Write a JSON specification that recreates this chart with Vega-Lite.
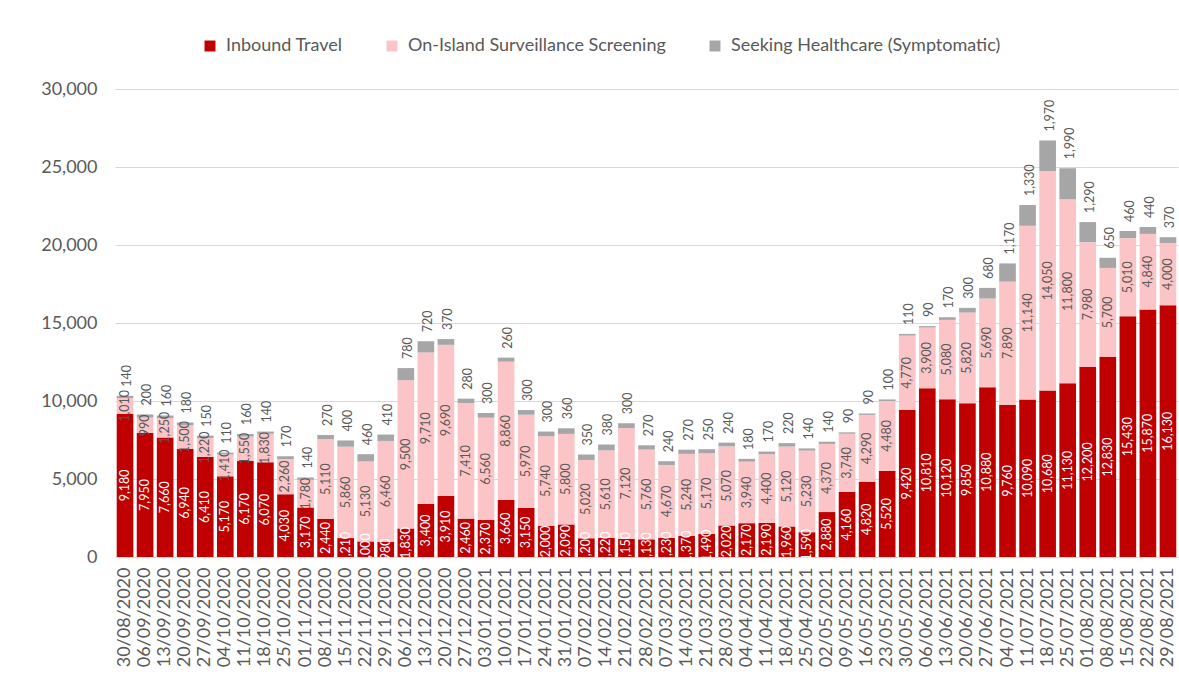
{
  "$schema": "https://vega.github.io/schema/vega-lite/v6.json",
  "width": 1063,
  "height": 468,
  "autosize": {"type": "none"},
  "padding": {"left": 115, "top": 89, "right": 1, "bottom": 123},
  "background": "white",
  "config": {
    "font": "Lato",
    "view": {"stroke": null}
  },
  "data": {
    "values": [
      {"week": "30/08/2020", "type": "Inbound Travel", "tests": 9180}, {"week": "30/08/2020", "type": "On-Island Surveillance Screening", "tests": 1010}, {"week": "30/08/2020", "type": "Seeking Healthcare (Symptomatic)", "tests": 140},
      {"week": "06/09/2020", "type": "Inbound Travel", "tests": 7950}, {"week": "06/09/2020", "type": "On-Island Surveillance Screening", "tests": 990}, {"week": "06/09/2020", "type": "Seeking Healthcare (Symptomatic)", "tests": 200},
      {"week": "13/09/2020", "type": "Inbound Travel", "tests": 7660}, {"week": "13/09/2020", "type": "On-Island Surveillance Screening", "tests": 1250}, {"week": "13/09/2020", "type": "Seeking Healthcare (Symptomatic)", "tests": 160},
      {"week": "20/09/2020", "type": "Inbound Travel", "tests": 6940}, {"week": "20/09/2020", "type": "On-Island Surveillance Screening", "tests": 1500}, {"week": "20/09/2020", "type": "Seeking Healthcare (Symptomatic)", "tests": 180},
      {"week": "27/09/2020", "type": "Inbound Travel", "tests": 6410}, {"week": "27/09/2020", "type": "On-Island Surveillance Screening", "tests": 1220}, {"week": "27/09/2020", "type": "Seeking Healthcare (Symptomatic)", "tests": 150},
      {"week": "04/10/2020", "type": "Inbound Travel", "tests": 5170}, {"week": "04/10/2020", "type": "On-Island Surveillance Screening", "tests": 1410}, {"week": "04/10/2020", "type": "Seeking Healthcare (Symptomatic)", "tests": 110},
      {"week": "11/10/2020", "type": "Inbound Travel", "tests": 6170}, {"week": "11/10/2020", "type": "On-Island Surveillance Screening", "tests": 1550}, {"week": "11/10/2020", "type": "Seeking Healthcare (Symptomatic)", "tests": 160},
      {"week": "18/10/2020", "type": "Inbound Travel", "tests": 6070}, {"week": "18/10/2020", "type": "On-Island Surveillance Screening", "tests": 1830}, {"week": "18/10/2020", "type": "Seeking Healthcare (Symptomatic)", "tests": 140},
      {"week": "25/10/2020", "type": "Inbound Travel", "tests": 4030}, {"week": "25/10/2020", "type": "On-Island Surveillance Screening", "tests": 2260}, {"week": "25/10/2020", "type": "Seeking Healthcare (Symptomatic)", "tests": 170},
      {"week": "01/11/2020", "type": "Inbound Travel", "tests": 3170}, {"week": "01/11/2020", "type": "On-Island Surveillance Screening", "tests": 1780}, {"week": "01/11/2020", "type": "Seeking Healthcare (Symptomatic)", "tests": 140},
      {"week": "08/11/2020", "type": "Inbound Travel", "tests": 2440}, {"week": "08/11/2020", "type": "On-Island Surveillance Screening", "tests": 5110}, {"week": "08/11/2020", "type": "Seeking Healthcare (Symptomatic)", "tests": 270},
      {"week": "15/11/2020", "type": "Inbound Travel", "tests": 1210}, {"week": "15/11/2020", "type": "On-Island Surveillance Screening", "tests": 5860}, {"week": "15/11/2020", "type": "Seeking Healthcare (Symptomatic)", "tests": 400},
      {"week": "22/11/2020", "type": "Inbound Travel", "tests": 1000}, {"week": "22/11/2020", "type": "On-Island Surveillance Screening", "tests": 5130}, {"week": "22/11/2020", "type": "Seeking Healthcare (Symptomatic)", "tests": 460},
      {"week": "29/11/2020", "type": "Inbound Travel", "tests": 980}, {"week": "29/11/2020", "type": "On-Island Surveillance Screening", "tests": 6460}, {"week": "29/11/2020", "type": "Seeking Healthcare (Symptomatic)", "tests": 410},
      {"week": "06/12/2020", "type": "Inbound Travel", "tests": 1830}, {"week": "06/12/2020", "type": "On-Island Surveillance Screening", "tests": 9500}, {"week": "06/12/2020", "type": "Seeking Healthcare (Symptomatic)", "tests": 780},
      {"week": "13/12/2020", "type": "Inbound Travel", "tests": 3400}, {"week": "13/12/2020", "type": "On-Island Surveillance Screening", "tests": 9710}, {"week": "13/12/2020", "type": "Seeking Healthcare (Symptomatic)", "tests": 720},
      {"week": "20/12/2020", "type": "Inbound Travel", "tests": 3910}, {"week": "20/12/2020", "type": "On-Island Surveillance Screening", "tests": 9690}, {"week": "20/12/2020", "type": "Seeking Healthcare (Symptomatic)", "tests": 370},
      {"week": "27/12/2020", "type": "Inbound Travel", "tests": 2460}, {"week": "27/12/2020", "type": "On-Island Surveillance Screening", "tests": 7410}, {"week": "27/12/2020", "type": "Seeking Healthcare (Symptomatic)", "tests": 280},
      {"week": "03/01/2021", "type": "Inbound Travel", "tests": 2370}, {"week": "03/01/2021", "type": "On-Island Surveillance Screening", "tests": 6560}, {"week": "03/01/2021", "type": "Seeking Healthcare (Symptomatic)", "tests": 300},
      {"week": "10/01/2021", "type": "Inbound Travel", "tests": 3660}, {"week": "10/01/2021", "type": "On-Island Surveillance Screening", "tests": 8860}, {"week": "10/01/2021", "type": "Seeking Healthcare (Symptomatic)", "tests": 260},
      {"week": "17/01/2021", "type": "Inbound Travel", "tests": 3150}, {"week": "17/01/2021", "type": "On-Island Surveillance Screening", "tests": 5970}, {"week": "17/01/2021", "type": "Seeking Healthcare (Symptomatic)", "tests": 300},
      {"week": "24/01/2021", "type": "Inbound Travel", "tests": 2000}, {"week": "24/01/2021", "type": "On-Island Surveillance Screening", "tests": 5740}, {"week": "24/01/2021", "type": "Seeking Healthcare (Symptomatic)", "tests": 300},
      {"week": "31/01/2021", "type": "Inbound Travel", "tests": 2090}, {"week": "31/01/2021", "type": "On-Island Surveillance Screening", "tests": 5800}, {"week": "31/01/2021", "type": "Seeking Healthcare (Symptomatic)", "tests": 360},
      {"week": "07/02/2021", "type": "Inbound Travel", "tests": 1200}, {"week": "07/02/2021", "type": "On-Island Surveillance Screening", "tests": 5020}, {"week": "07/02/2021", "type": "Seeking Healthcare (Symptomatic)", "tests": 350},
      {"week": "14/02/2021", "type": "Inbound Travel", "tests": 1220}, {"week": "14/02/2021", "type": "On-Island Surveillance Screening", "tests": 5610}, {"week": "14/02/2021", "type": "Seeking Healthcare (Symptomatic)", "tests": 380},
      {"week": "21/02/2021", "type": "Inbound Travel", "tests": 1150}, {"week": "21/02/2021", "type": "On-Island Surveillance Screening", "tests": 7120}, {"week": "21/02/2021", "type": "Seeking Healthcare (Symptomatic)", "tests": 300},
      {"week": "28/02/2021", "type": "Inbound Travel", "tests": 1130}, {"week": "28/02/2021", "type": "On-Island Surveillance Screening", "tests": 5760}, {"week": "28/02/2021", "type": "Seeking Healthcare (Symptomatic)", "tests": 270},
      {"week": "07/03/2021", "type": "Inbound Travel", "tests": 1230}, {"week": "07/03/2021", "type": "On-Island Surveillance Screening", "tests": 4670}, {"week": "07/03/2021", "type": "Seeking Healthcare (Symptomatic)", "tests": 240},
      {"week": "14/03/2021", "type": "Inbound Travel", "tests": 1370}, {"week": "14/03/2021", "type": "On-Island Surveillance Screening", "tests": 5240}, {"week": "14/03/2021", "type": "Seeking Healthcare (Symptomatic)", "tests": 270},
      {"week": "21/03/2021", "type": "Inbound Travel", "tests": 1490}, {"week": "21/03/2021", "type": "On-Island Surveillance Screening", "tests": 5170}, {"week": "21/03/2021", "type": "Seeking Healthcare (Symptomatic)", "tests": 250},
      {"week": "28/03/2021", "type": "Inbound Travel", "tests": 2020}, {"week": "28/03/2021", "type": "On-Island Surveillance Screening", "tests": 5070}, {"week": "28/03/2021", "type": "Seeking Healthcare (Symptomatic)", "tests": 240},
      {"week": "04/04/2021", "type": "Inbound Travel", "tests": 2170}, {"week": "04/04/2021", "type": "On-Island Surveillance Screening", "tests": 3940}, {"week": "04/04/2021", "type": "Seeking Healthcare (Symptomatic)", "tests": 180},
      {"week": "11/04/2021", "type": "Inbound Travel", "tests": 2190}, {"week": "11/04/2021", "type": "On-Island Surveillance Screening", "tests": 4400}, {"week": "11/04/2021", "type": "Seeking Healthcare (Symptomatic)", "tests": 170},
      {"week": "18/04/2021", "type": "Inbound Travel", "tests": 1960}, {"week": "18/04/2021", "type": "On-Island Surveillance Screening", "tests": 5120}, {"week": "18/04/2021", "type": "Seeking Healthcare (Symptomatic)", "tests": 220},
      {"week": "25/04/2021", "type": "Inbound Travel", "tests": 1590}, {"week": "25/04/2021", "type": "On-Island Surveillance Screening", "tests": 5230}, {"week": "25/04/2021", "type": "Seeking Healthcare (Symptomatic)", "tests": 140},
      {"week": "02/05/2021", "type": "Inbound Travel", "tests": 2880}, {"week": "02/05/2021", "type": "On-Island Surveillance Screening", "tests": 4370}, {"week": "02/05/2021", "type": "Seeking Healthcare (Symptomatic)", "tests": 140},
      {"week": "09/05/2021", "type": "Inbound Travel", "tests": 4160}, {"week": "09/05/2021", "type": "On-Island Surveillance Screening", "tests": 3740}, {"week": "09/05/2021", "type": "Seeking Healthcare (Symptomatic)", "tests": 90},
      {"week": "16/05/2021", "type": "Inbound Travel", "tests": 4820}, {"week": "16/05/2021", "type": "On-Island Surveillance Screening", "tests": 4290}, {"week": "16/05/2021", "type": "Seeking Healthcare (Symptomatic)", "tests": 90},
      {"week": "23/05/2021", "type": "Inbound Travel", "tests": 5520}, {"week": "23/05/2021", "type": "On-Island Surveillance Screening", "tests": 4480}, {"week": "23/05/2021", "type": "Seeking Healthcare (Symptomatic)", "tests": 100},
      {"week": "30/05/2021", "type": "Inbound Travel", "tests": 9420}, {"week": "30/05/2021", "type": "On-Island Surveillance Screening", "tests": 4770}, {"week": "30/05/2021", "type": "Seeking Healthcare (Symptomatic)", "tests": 110},
      {"week": "06/06/2021", "type": "Inbound Travel", "tests": 10810}, {"week": "06/06/2021", "type": "On-Island Surveillance Screening", "tests": 3900}, {"week": "06/06/2021", "type": "Seeking Healthcare (Symptomatic)", "tests": 90},
      {"week": "13/06/2021", "type": "Inbound Travel", "tests": 10120}, {"week": "13/06/2021", "type": "On-Island Surveillance Screening", "tests": 5080}, {"week": "13/06/2021", "type": "Seeking Healthcare (Symptomatic)", "tests": 170},
      {"week": "20/06/2021", "type": "Inbound Travel", "tests": 9850}, {"week": "20/06/2021", "type": "On-Island Surveillance Screening", "tests": 5820}, {"week": "20/06/2021", "type": "Seeking Healthcare (Symptomatic)", "tests": 300},
      {"week": "27/06/2021", "type": "Inbound Travel", "tests": 10880}, {"week": "27/06/2021", "type": "On-Island Surveillance Screening", "tests": 5690}, {"week": "27/06/2021", "type": "Seeking Healthcare (Symptomatic)", "tests": 680},
      {"week": "04/07/2021", "type": "Inbound Travel", "tests": 9760}, {"week": "04/07/2021", "type": "On-Island Surveillance Screening", "tests": 7890}, {"week": "04/07/2021", "type": "Seeking Healthcare (Symptomatic)", "tests": 1170},
      {"week": "11/07/2021", "type": "Inbound Travel", "tests": 10090}, {"week": "11/07/2021", "type": "On-Island Surveillance Screening", "tests": 11140}, {"week": "11/07/2021", "type": "Seeking Healthcare (Symptomatic)", "tests": 1330},
      {"week": "18/07/2021", "type": "Inbound Travel", "tests": 10680}, {"week": "18/07/2021", "type": "On-Island Surveillance Screening", "tests": 14050}, {"week": "18/07/2021", "type": "Seeking Healthcare (Symptomatic)", "tests": 1970},
      {"week": "25/07/2021", "type": "Inbound Travel", "tests": 11130}, {"week": "25/07/2021", "type": "On-Island Surveillance Screening", "tests": 11800}, {"week": "25/07/2021", "type": "Seeking Healthcare (Symptomatic)", "tests": 1990},
      {"week": "01/08/2021", "type": "Inbound Travel", "tests": 12200}, {"week": "01/08/2021", "type": "On-Island Surveillance Screening", "tests": 7980}, {"week": "01/08/2021", "type": "Seeking Healthcare (Symptomatic)", "tests": 1290},
      {"week": "08/08/2021", "type": "Inbound Travel", "tests": 12830}, {"week": "08/08/2021", "type": "On-Island Surveillance Screening", "tests": 5700}, {"week": "08/08/2021", "type": "Seeking Healthcare (Symptomatic)", "tests": 650},
      {"week": "15/08/2021", "type": "Inbound Travel", "tests": 15430}, {"week": "15/08/2021", "type": "On-Island Surveillance Screening", "tests": 5010}, {"week": "15/08/2021", "type": "Seeking Healthcare (Symptomatic)", "tests": 460},
      {"week": "22/08/2021", "type": "Inbound Travel", "tests": 15870}, {"week": "22/08/2021", "type": "On-Island Surveillance Screening", "tests": 4840}, {"week": "22/08/2021", "type": "Seeking Healthcare (Symptomatic)", "tests": 440},
      {"week": "29/08/2021", "type": "Inbound Travel", "tests": 16130}, {"week": "29/08/2021", "type": "On-Island Surveillance Screening", "tests": 4000}, {"week": "29/08/2021", "type": "Seeking Healthcare (Symptomatic)", "tests": 370}
    ]
  },
  "encoding": {
    "x": {
      "field": "week",
      "type": "ordinal",
      "sort": null,
      "scale": {"paddingInner": 0.17, "paddingOuter": 0.085},
      "axis": {
        "title": null,
        "labelAngle": -90,
        "labelFontSize": 18,
        "labelColor": "#595959",
        "labelPadding": 10,
        "labelOverlap": false,
        "ticks": false,
        "domain": true,
        "domainColor": "#D9D9D9"
      }
    }
  },
  "layer": [
    {
      "mark": {"type": "bar"},
      "encoding": {
        "y": {
          "field": "tests",
          "type": "quantitative",
          "stack": "zero",
          "scale": {"domain": [0, 30000]},
          "axis": {
            "title": null,
            "values": [0, 5000, 10000, 15000, 20000, 25000, 30000],
            "format": ",.0f",
            "labelFontSize": 18,
            "labelColor": "#595959",
            "labelPadding": 18,
            "ticks": false,
            "domain": false,
            "grid": true,
            "gridColor": "#D9D9D9",
            "gridWidth": 1.2
          }
        },
        "color": {
          "field": "type",
          "type": "nominal",
          "scale": {
            "domain": ["Inbound Travel", "On-Island Surveillance Screening", "Seeking Healthcare (Symptomatic)"],
            "range": ["#C00000", "#FBC5C8", "#A6A6A6"]
          },
          "legend": {
            "title": null,
            "orient": "none",
            "legendX": 86,
            "legendY": -52,
            "direction": "horizontal",
            "symbolType": "square",
            "symbolSize": 120,
            "symbolStrokeWidth": 0,
            "labelFontSize": 18,
            "labelColor": "#595959",
            "labelOffset": 7,
            "labelLimit": 0,
            "columnPadding": 40
          }
        },
        "order": {"field": "type", "sort": "ascending"}
      }
    },
    {
      "transform": [
        {"stack": "tests", "groupby": ["week"], "sort": [{"field": "type", "order": "ascending"}], "as": ["y0", "y1"]},
        {"filter": {"field": "type", "equal": "Inbound Travel"}},
        {"fold": ["y0", "y1"], "as": ["edge", "pos"]},
        {"aggregate": [{"op": "mean", "field": "pos", "as": "mid"}], "groupby": ["week", "tests"]}
      ],
      "mark": {"type": "text", "angle": 270, "align": "center", "baseline": "middle", "fontSize": 12.5, "color": "#FFFFFF"},
      "encoding": {
        "y": {
          "field": "mid",
          "type": "quantitative",
          "scale": {"domain": [0, 30000]},
          "axis": {
            "title": null,
            "values": [0, 5000, 10000, 15000, 20000, 25000, 30000],
            "format": ",.0f",
            "labelFontSize": 18,
            "labelColor": "#595959",
            "labelPadding": 18,
            "ticks": false,
            "domain": false,
            "grid": true,
            "gridColor": "#D9D9D9",
            "gridWidth": 1.2
          }
        },
        "text": {"field": "tests", "type": "quantitative", "format": ",.0f"}
      }
    },
    {
      "transform": [
        {"stack": "tests", "groupby": ["week"], "sort": [{"field": "type", "order": "ascending"}], "as": ["y0", "y1"]},
        {"filter": {"field": "type", "equal": "On-Island Surveillance Screening"}},
        {"fold": ["y0", "y1"], "as": ["edge", "pos"]},
        {"aggregate": [{"op": "mean", "field": "pos", "as": "mid"}], "groupby": ["week", "tests"]}
      ],
      "mark": {"type": "text", "angle": 270, "align": "center", "baseline": "middle", "fontSize": 12.5, "color": "#595959"},
      "encoding": {
        "y": {
          "field": "mid",
          "type": "quantitative",
          "scale": {"domain": [0, 30000]},
          "axis": {
            "title": null,
            "values": [0, 5000, 10000, 15000, 20000, 25000, 30000],
            "format": ",.0f",
            "labelFontSize": 18,
            "labelColor": "#595959",
            "labelPadding": 18,
            "ticks": false,
            "domain": false,
            "grid": true,
            "gridColor": "#D9D9D9",
            "gridWidth": 1.2
          }
        },
        "text": {"field": "tests", "type": "quantitative", "format": ",.0f"}
      }
    },
    {
      "transform": [
        {"stack": "tests", "groupby": ["week"], "sort": [{"field": "type", "order": "ascending"}], "as": ["y0", "y1"]},
        {"filter": {"field": "type", "equal": "Seeking Healthcare (Symptomatic)"}}
      ],
      "mark": {"type": "text", "angle": 270, "align": "left", "baseline": "middle", "fontSize": 12.5, "color": "#595959", "dx": 9, "dy": 2},
      "encoding": {
        "y": {
          "field": "y1",
          "type": "quantitative",
          "scale": {"domain": [0, 30000]},
          "axis": {
            "title": null,
            "values": [0, 5000, 10000, 15000, 20000, 25000, 30000],
            "format": ",.0f",
            "labelFontSize": 18,
            "labelColor": "#595959",
            "labelPadding": 18,
            "ticks": false,
            "domain": false,
            "grid": true,
            "gridColor": "#D9D9D9",
            "gridWidth": 1.2
          }
        },
        "text": {"field": "tests", "type": "quantitative", "format": ",.0f"}
      }
    }
  ]
}
